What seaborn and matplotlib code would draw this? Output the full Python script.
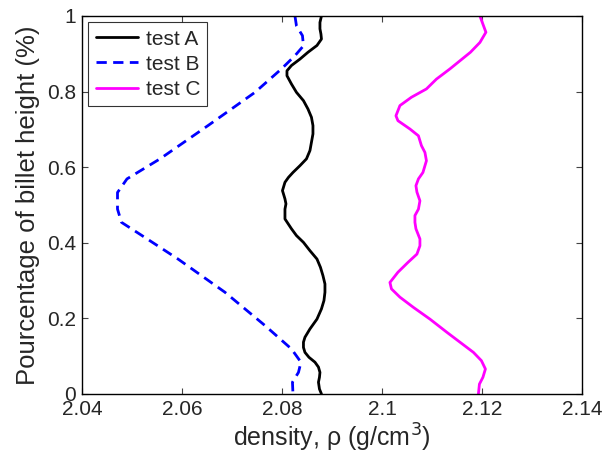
import matplotlib
matplotlib.use("Agg")
import matplotlib.pyplot as plt
import pandas as pd
import seaborn as sns

# values (density in g/cm3, fraction of billet height)
height_a = [1.0, 0.983, 0.966, 0.952, 0.939, 0.922, 0.904, 0.886, 0.869, 0.855, 0.842,
            0.820, 0.798, 0.776, 0.754, 0.732, 0.710, 0.688, 0.666, 0.644, 0.622, 0.604,
            0.586, 0.573, 0.560, 0.538, 0.516, 0.503, 0.489, 0.463, 0.437, 0.419, 0.401,
            0.379, 0.357, 0.335, 0.313, 0.291, 0.269, 0.247, 0.225, 0.198, 0.172, 0.150,
            0.137, 0.123, 0.110, 0.097, 0.084, 0.071, 0.057, 0.044, 0.031, 0.013, 0.0]
density_a = [2.0879, 2.0876, 2.0876, 2.0878, 2.0879, 2.0870, 2.0852, 2.0836, 2.0819, 2.0810, 2.0810,
             2.0819, 2.0829, 2.0843, 2.0852, 2.0859, 2.0862, 2.0862, 2.0859, 2.0856, 2.0849, 2.0836,
             2.0822, 2.0813, 2.0806, 2.0801, 2.0806, 2.0808, 2.0806, 2.0806, 2.0819, 2.0829, 2.0843,
             2.0856, 2.0870, 2.0877, 2.0882, 2.0886, 2.0886, 2.0884, 2.0879, 2.0870, 2.0856, 2.0846,
             2.0843, 2.0843, 2.0846, 2.0854, 2.0866, 2.0873, 2.0876, 2.0875, 2.0873, 2.0875, 2.0879]

height_b = [1.0, 0.974, 0.948, 0.921, 0.895, 0.860, 0.798, 0.710, 0.622, 0.569, 0.533,
            0.489, 0.454, 0.419, 0.357, 0.269, 0.181, 0.119, 0.084, 0.057, 0.031, 0.0]
density_b = [2.0826, 2.0829, 2.0841, 2.0843, 2.0826, 2.0799, 2.0746, 2.0652, 2.0556, 2.0490, 2.0471,
             2.0471, 2.0479, 2.0520, 2.0592, 2.0686, 2.0766, 2.0819, 2.0838, 2.0833, 2.0821, 2.0822]

height_c = [1.0, 0.957, 0.930, 0.904, 0.860, 0.833, 0.807, 0.785, 0.763, 0.736, 0.723,
            0.701, 0.683, 0.657, 0.639, 0.617, 0.586, 0.569, 0.551, 0.534, 0.511, 0.489,
            0.472, 0.454, 0.437, 0.410, 0.392, 0.370, 0.348, 0.322, 0.295, 0.278, 0.256,
            0.229, 0.198, 0.163, 0.137, 0.110, 0.088, 0.066, 0.044, 0.026, 0.0]
density_c = [2.1196, 2.1208, 2.1196, 2.1177, 2.1136, 2.1109, 2.1089, 2.1059, 2.1036, 2.1028, 2.1032,
             2.1056, 2.1073, 2.1079, 2.1086, 2.1089, 2.1082, 2.1073, 2.1068, 2.1070, 2.1076, 2.1073,
             2.1066, 2.1066, 2.1068, 2.1076, 2.1076, 2.1070, 2.1052, 2.1032, 2.1016, 2.1019, 2.1036,
             2.1063, 2.1096, 2.1130, 2.1156, 2.1183, 2.1199, 2.1207, 2.1202, 2.1195, 2.1193]

series_names = ["test A", "test B", "test C"]
series_colors = ["black", "#0000ff", "#ff00ff"]
x_ticks = [2.04, 2.06, 2.08, 2.1, 2.12, 2.14]
x_tick_labels = ["2.04", "2.06", "2.08", "2.1", "2.12", "2.14"]
y_ticks = [0, 0.2, 0.4, 0.6, 0.8, 1]
y_tick_labels = ["0", "0.2", "0.4", "0.6", "0.8", "1"]

frames = []
for name, dens, hgt in zip(series_names, [density_a, density_b, density_c],
                           [height_a, height_b, height_c]):
    frames.append(pd.DataFrame({"density": dens, "height": hgt, "test": name}))
df = pd.concat(frames, ignore_index=True)

sns.set_theme(style="white")
plt.rcParams["font.family"] = ["Liberation Sans", "DejaVu Sans"]
plt.rcParams["xtick.direction"] = "in"
plt.rcParams["ytick.direction"] = "in"
plt.rcParams["lines.solid_joinstyle"] = "round"

fig = plt.figure(figsize=(6.03, 4.57), dpi=100)
ax = fig.add_axes([0.136, 0.138, 0.829, 0.827])

sns.lineplot(data=df, x="density", y="height", hue="test", style="test",
             palette=dict(zip(series_names, series_colors)),
             dashes={"test A": "", "test B": (3.7, 2.3), "test C": ""},
             sort=False, estimator=None, orient="y", linewidth=2.0, ax=ax)

ax.set_xlim(2.04, 2.14)
ax.set_ylim(0, 1)
ax.set_xticks(x_ticks)
ax.set_xticklabels(x_tick_labels)
ax.set_yticks(y_ticks)
ax.set_yticklabels(y_tick_labels)
ax.tick_params(axis="both", labelsize=15, length=4, width=0.8, color="#444444",
               top=True, right=True, bottom=True, left=True, pad=4.5)
for spine in ax.spines.values():
    spine.set_color("black")
    spine.set_linewidth(1.0)

ax.set_xlabel("density, ρ (g/cm$^3$)", fontsize=18, labelpad=2)
ax.set_ylabel("Pourcentage of billet height (%)", fontsize=18.5, labelpad=5)

leg = ax.legend(loc="upper left", fontsize=15, frameon=True, fancybox=False,
                handlelength=2.05, borderaxespad=0.3, borderpad=0.35,
                labelspacing=0.3, handletextpad=0.35)
leg.get_frame().set_edgecolor("black")
leg.get_frame().set_linewidth(0.8)

fig.savefig("out.png", dpi=100)
